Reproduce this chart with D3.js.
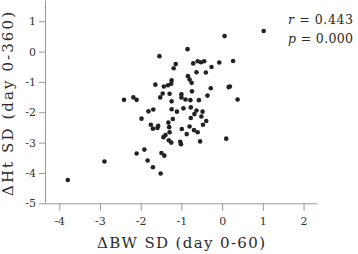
<!DOCTYPE html>
<html>
<head>
<meta charset="utf-8">
<script src="https://cdn.jsdelivr.net/npm/d3@7"></script>
<style>
  html, body { margin: 0; padding: 0; background: #fff; }
  svg { display: block; }
  .axis text { font-family: "DejaVu Serif", serif; font-size: 11px; fill: #333; }
  .axis path, .axis line { stroke: #999; }
  .title, .stat { font-family: "DejaVu Serif", serif; fill: #2a2a2a; }
</style>
</head>
<body>
<div id="chart"></div>
<script>
const W = 358, H = 254;

// ΔBW SD (x) and ΔHt SD (y) per child
const bwSD = [1.02, 0.06, -0.85, -1.54, -1.14, -1.19, -0.71, -0.60, -0.52, -0.44,
  -0.07, 0.27, -0.26, -0.63, -0.40, -0.84, -0.80, -0.75, -1.24, -1.25,
  -1.64, -1.43, -1.33, -0.28, 0.16, 0.19, -2.41, -2.18, -2.10, 0.38,
  -1.46, -1.29, -1.52, -1.24, -1.00, -1.00, -0.90, -0.78, -0.74, -0.57,
  -0.36, -1.81, -1.69, -1.98, -1.24, -1.11, -0.95, -0.77, -0.63, -0.48,
  -0.68, -0.51, -0.77, -1.21, -0.39, -0.47, -1.32, -1.75, -1.70, -1.57,
  -1.59, -1.30, -1.29, -1.39, -1.44, -1.31, -1.25, -0.99, -0.87, -0.80,
  -0.69, -0.60, -1.03, -1.01, -0.54, 0.10, -2.89, -2.10, -1.91, -1.83,
  -1.70, -1.49, -1.42, -1.51, -3.79];
const htSD = [0.68, 0.51, 0.08, -0.15, -0.41, -0.55, -0.39, -0.32, -0.35, -0.32,
  -0.36, -0.31, -0.51, -0.68, -0.69, -0.81, -0.92, -1.03, -0.95, -1.06,
  -1.09, -1.15, -1.11, -1.21, -1.17, -1.15, -1.59, -1.51, -1.59, -1.58,
  -1.38, -1.39, -1.51, -1.64, -1.41, -1.51, -1.58, -1.60, -1.31, -1.60,
  -1.45, -1.97, -1.91, -2.21, -1.90, -1.98, -1.87, -1.84, -1.94, -1.98,
  -2.06, -2.14, -2.19, -2.22, -2.29, -2.41, -2.34, -2.41, -2.54, -2.45,
  -2.52, -2.49, -2.66, -2.75, -2.82, -2.92, -3.00, -2.55, -2.72, -2.47,
  -2.59, -2.66, -2.97, -3.05, -2.96, -2.87, -3.62, -3.36, -3.23, -3.59,
  -3.81, -3.34, -3.43, -4.02, -4.23];

const xTicks = [-4, -3, -2, -1, 0, 1, 2];
const yTicks = [-5, -4, -3, -2, -1, 0, 1];
const xTitle = "ΔBW SD (day 0-60)";
const yTitle = "ΔHt SD (day 0-360)";
const statNames = ["r", "p"];
const statValues = ["0.443", "0.000"];

const svg = d3.select("#chart").append("svg")
  .attr("width", W).attr("height", H);

const x = d3.scaleLinear().domain([-4.35, 2.33]).range([45, 317]);
const y = d3.scaleLinear().domain([-5, 1.7]).range([203.3, 0]);

svg.append("g")
  .attr("class", "axis")
  .attr("transform", `translate(0,${y(-5)})`)
  .call(d3.axisBottom(x).tickValues(xTicks).tickFormat(d => String(d))
    .tickSize(7.5).tickSizeOuter(0).tickPadding(6));

svg.append("g")
  .attr("class", "axis")
  .attr("transform", `translate(${x.range()[0]},0)`)
  .call(d3.axisLeft(y).tickValues(yTicks).tickFormat(d => String(d))
    .tickSize(6).tickSizeOuter(0).tickPadding(3));

svg.append("g")
  .selectAll("circle")
  .data(bwSD.map((v, i) => [v, htSD[i]]))
  .join("circle")
  .attr("cx", d => x(d[0]))
  .attr("cy", d => y(d[1]))
  .attr("r", 2.3)
  .attr("fill", "#222");

// axis titles
svg.append("text")
  .attr("class", "title")
  .attr("x", 181).attr("y", 247.5)
  .attr("text-anchor", "middle")
  .attr("font-size", 15)
  .attr("textLength", 168).attr("lengthAdjust", "spacing")
  .text(xTitle);

svg.append("text")
  .attr("class", "title")
  .attr("transform", "translate(13,104) rotate(-90)")
  .attr("text-anchor", "middle")
  .attr("font-size", 15)
  .attr("textLength", 184).attr("lengthAdjust", "spacing")
  .text(yTitle);

// r / p annotation
const stat = svg.append("g")
  .selectAll("text")
  .data(statNames)
  .join("text")
  .attr("class", "stat")
  .attr("x", 288)
  .attr("y", (d, i) => 24 + i * 18.5)
  .attr("font-size", 12.5)
  .attr("textLength", 65).attr("lengthAdjust", "spacing");
stat.append("tspan").attr("font-style", "italic").text(d => d);
stat.append("tspan").text((d, i) => " = " + statValues[i]);
</script>
</body>
</html>
